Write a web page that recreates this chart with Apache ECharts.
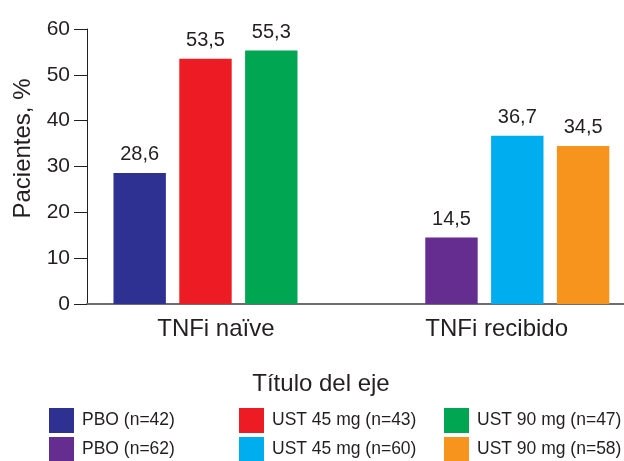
<!DOCTYPE html>
<html><head><meta charset="utf-8">
<script src="https://cdn.jsdelivr.net/npm/echarts@6/dist/echarts.min.js"></script>
<style>html,body{margin:0;padding:0;background:#fff}#c{width:624px;height:461px}</style>
</head><body><div id="c"></div>
<script>
const categories = ['TNFi naïve', 'TNFi recibido'];
const seriesNames = ['PBO (n=42)', 'UST 45 mg (n=43)', 'UST 90 mg (n=47)', 'PBO (n=62)', 'UST 45 mg (n=60)', 'UST 90 mg (n=58)'];
const pboNaive = [28.6, null];
const ust45Naive = [53.5, null];
const ust90Naive = [55.3, null];
const pboRecibido = [null, 14.5];
const ust45Recibido = [null, 36.7];
const ust90Recibido = [null, 34.5];
const yMin = 0, yMax = 60, yStep = 10;
const yTitle = 'Pacientes, %';
const xTitle = 'Título del eje';

const SANS = "'Liberation Sans', Arial, sans-serif";
const TXT = '#231f20';
const colors = ['#2E3192', '#ED1C24', '#00A651', '#662D91', '#00AEEF', '#F7941D'];
const stacks = ['pbo', 'ust45', 'ust90', 'pbo', 'ust45', 'ust90'];
const values = [pboNaive, ust45Naive, ust90Naive, pboRecibido, ust45Recibido, ust90Recibido];

const fmt = v => v.toFixed(1).replace('.', ',');

const series = values.map((d, i) => ({
  name: seriesNames[i],
  type: 'bar',
  stack: stacks[i],
  data: d,
  barWidth: 52.4,
  barGap: '25.6%',
  itemStyle: { color: colors[i] },
  label: {
    show: true, position: 'top', distance: 8,
    formatter: p => fmt(p.value),
    fontFamily: SANS, fontSize: 20, color: TXT
  }
}));
// empty spacer slot that shifts the groups inside each category band
series.push({ name: 'spacer', type: 'bar', stack: 'spacer', data: [null, null], barWidth: 61.4, barGap: '25.6%', silent: true });

const legendCol = (names, left) => ({
  orient: 'vertical', left: left, top: 408, height: 60, padding: 0,
  itemWidth: 25, itemHeight: 25, itemGap: 4, icon: 'rect',
  data: names, selectedMode: false,
  textStyle: { fontFamily: SANS, fontSize: 17.5, color: TXT, padding: [0, 0, 0, 3] }
});

const chart = echarts.init(document.getElementById('c'), null, { renderer: 'canvas' });
chart.setOption({
  animation: false,
  backgroundColor: '#fff',
  title: {
    text: xTitle, left: 321, top: 372, padding: 0, textAlign: 'center',
    textStyle: { fontFamily: SANS, fontSize: 24, fontWeight: 'normal', color: TXT }
  },
  legend: [
    legendCol([seriesNames[0], seriesNames[3]], 49),
    legendCol([seriesNames[1], seriesNames[4]], 239),
    legendCol([seriesNames[2], seriesNames[5]], 444)
  ],
  grid: { left: 87, top: 29, width: 623.6, height: 275, containLabel: false, outerBoundsMode: 'none' },
  xAxis: {
    type: 'category', data: categories,
    axisLine: { lineStyle: { color: '#6d6d6d', width: 2 } },
    axisTick: { show: false },
    axisLabel: {
      margin: 13, fontFamily: SANS, fontSize: 24, color: TXT,
      formatter: (v, i) => (i === 0 ? '{a|' : '{b|') + v + '}',
      rich: {
        a: { fontFamily: SANS, fontSize: 24, color: TXT, padding: [0, 54, 0, 0] },
        b: { fontFamily: SANS, fontSize: 24, color: TXT, padding: [0, 116, 0, 0] }
      }
    }
  },
  yAxis: {
    type: 'value', min: yMin, max: yMax, interval: yStep,
    name: yTitle, nameLocation: 'middle', nameGap: 48, nameRotate: 90,
    nameTextStyle: { fontFamily: SANS, fontSize: 24, color: TXT, padding: [0, 0, 0, 36] },
    axisLine: { show: true, lineStyle: { color: '#231f20', width: 1 } },
    axisTick: { show: true, length: 13, lineStyle: { color: '#231f20' } },
    splitLine: { show: false },
    axisLabel: { margin: 17, fontFamily: SANS, fontSize: 21, color: TXT, padding: [0, 0, 7, 0] }
  },
  series: series
});
</script></body></html>
